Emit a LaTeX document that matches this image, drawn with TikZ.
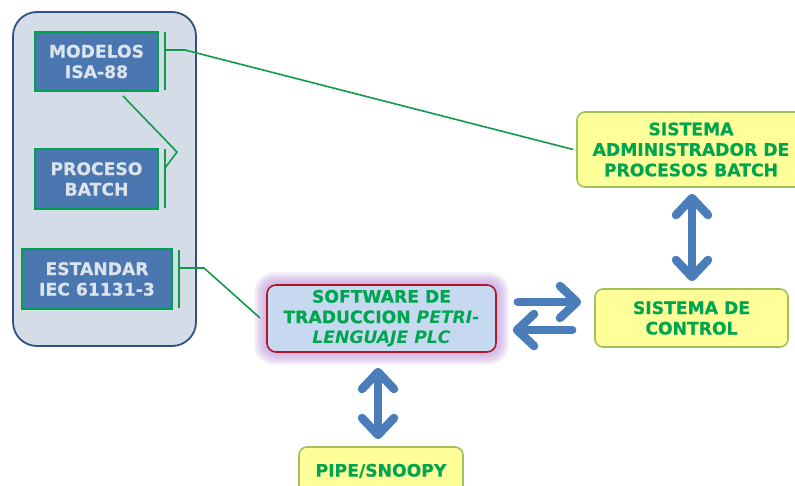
\documentclass[tikz,border=0pt]{standalone}
\usepackage{fontspec}
\setmainfont{DejaVu Sans}[BoldFeatures={FakeBold=0.5}]
\usetikzlibrary{arrows.meta}

\definecolor{contfill}{HTML}{D3DCE7}
\definecolor{contdraw}{HTML}{2F5285}
\definecolor{leftfill}{HTML}{4A77B0}
\definecolor{leftdraw}{HTML}{00A04E}
\definecolor{lefttext}{HTML}{DCE3EC}
\definecolor{linegreen}{HTML}{119A4A}
\definecolor{swfill}{HTML}{C6D9F1}
\definecolor{swdraw}{HTML}{B0182A}
\definecolor{glowcol}{HTML}{B890D8}
\definecolor{txtgreen}{HTML}{00A54F}
\definecolor{yfill}{HTML}{FFFF99}
\definecolor{ydraw}{HTML}{A3C15A}
\definecolor{arrowblue}{HTML}{4A7DBA}

\tikzset{
  lbl/.style={font=\bfseries\fontsize{17.2}{20.5}\selectfont, align=center},
  leftbox/.style={lbl, draw=leftdraw, line width=2pt, fill=leftfill,
    text=lefttext, inner sep=0pt},
  ybox/.style={lbl, draw=ydraw, line width=1.6pt, fill=yfill, text=txtgreen,
    rounded corners=8pt, inner sep=0pt},
  swbox/.style={lbl, draw=swdraw, line width=1.6pt, fill=swfill, text=txtgreen,
    rounded corners=9pt, inner sep=0pt},
  gline/.style={draw=linegreen, line width=1.6pt},
  bigtip/.style={},
  bigarrow/.style={draw=arrowblue, line width=8.5pt, line cap=round,
    -{Straight Barb[length=17pt,width=32pt,round]}},
  bigdarrow/.style={bigarrow,
    {Straight Barb[length=17pt,width=32pt,round]}-{Straight Barb[length=17pt,width=32pt,round]}},
}

\begin{document}
\begin{tikzpicture}[x=1pt,y=-1pt]
\useasboundingbox (0,0) rectangle (795,486);
\begin{scope}
\clip (0,0) rectangle (795,486);

% left container
\node[draw=contdraw, line width=1.8pt, fill=contfill, rounded corners=24pt,
      minimum width=183pt, minimum height=334pt, inner sep=0pt]
      (cont) at (104.5,179) {};

\node[leftbox, minimum width=123pt, minimum height=59pt] (modelos) at (96.5,61.5) {MODELOS\\ISA-88};
\node[leftbox, minimum width=123pt, minimum height=60pt] (proceso) at (96.5,179) {PROCESO\\BATCH};
\node[leftbox, minimum width=150pt, minimum height=60pt] (estandar) at (97,279) {ESTANDAR\\IEC 61131-3};

% side brackets
\coordinate (mb1) at (165,32);  \coordinate (mb2) at (165,90);
\coordinate (pb1) at (165,149); \coordinate (pb2) at (165,208);
\coordinate (eb1) at (179,250); \coordinate (eb2) at (179,308);
\draw[gline] (mb1) -- (mb2);
\draw[gline] (pb1) -- (pb2);
\draw[gline] (eb1) -- (eb2);

% glow behind the translation software box
\foreach \i in {1,...,10}{
  \fill[glowcol, opacity=0.1, rounded corners=10pt+\i pt]
    (267-\i*1.3,285-\i*1.3) rectangle (496+\i*1.3,352+\i*1.3);
}

\node[swbox, minimum width=229pt, minimum height=67pt] (software) at (381.5,318.5)
  {SOFTWARE DE\\TRADUCCION \textit{PETRI-}\\\textit{LENGUAJE PLC}};

\node[ybox, minimum width=164pt, minimum height=48pt] (pipe) at (381,471) {PIPE/SNOOPY};
\node[ybox, minimum width=228pt, minimum height=75pt] (admin) at (691,149.5)
  {SISTEMA\\ADMINISTRADOR DE\\PROCESOS BATCH};
\node[ybox, minimum width=193pt, minimum height=58pt] (control) at (691.5,318)
  {SISTEMA DE\\CONTROL};

% green links
\coordinate (mk) at (185,50);
\coordinate (pk) at (177,152);
\coordinate (ek) at (204,268);
\coordinate (ee) at (260,318);
\draw[gline] (mb1 |- mk) -- (mk) -- ([xshift=-3pt]admin.west);
\draw[gline] ([xshift=26.5pt,yshift=-4pt]modelos.south) -- (pk) -- (165,168);
\draw[gline] (eb1 |- ek) -- (ek) -- (ee);

% block arrows
\draw[bigdarrow, shorten <=6pt, shorten >=7pt] ([xshift=1pt]admin.south) -- ([xshift=1pt]admin.south |- control.north);
\draw[bigdarrow, shorten <=15pt, shorten >=7pt] ([xshift=-3.5pt]software.south) -- ([xshift=-3.5pt]software.south |- pipe.north);
\draw[bigarrow, shorten <=21pt, shorten >=13pt] ([yshift=16.5pt]software.east) -- ([yshift=16.5pt]software.east -| control.west);
\draw[bigarrow, shorten <=22pt, shorten >=16pt] ([yshift=-11.5pt]software.east -| control.west) -- ([yshift=-11.5pt]software.east);
\end{scope}
\end{tikzpicture}
\end{document}
